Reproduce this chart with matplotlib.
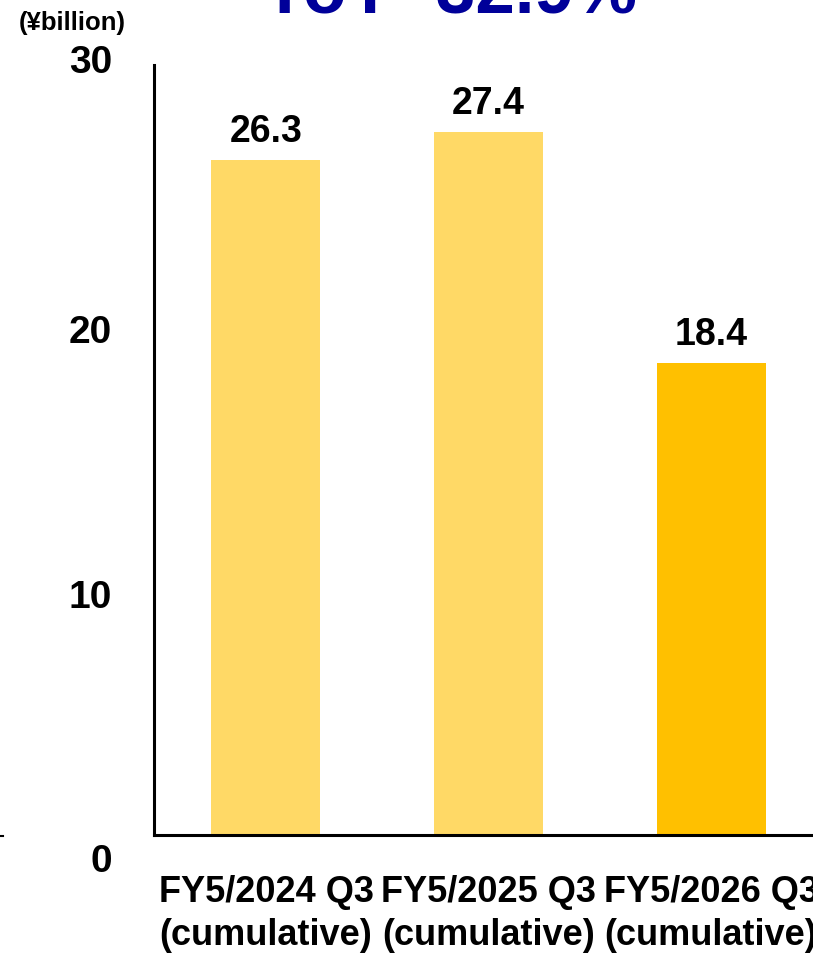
import matplotlib
matplotlib.use("Agg")
import matplotlib.pyplot as plt
from matplotlib import font_manager
from matplotlib.lines import Line2D

categories = ["FY5/2024 Q3\n(cumulative)", "FY5/2025 Q3\n(cumulative)", "FY5/2026 Q3\n(cumulative)"]
values = [26.3, 27.4, 18.4]
value_labels = ["26.3", "27.4", "18.4"]
bar_colors = ["#FFD966", "#FFD966", "#FFC000"]
ytick_values = [30, 20, 10, 0]
ytick_labels = ["30", "20", "10", "0"]
unit_label = "(¥billion)"
title_text = "YoY -32.9%"

names = {f.name for f in font_manager.fontManager.ttflist}
fam = [n for n in ["Liberation Sans Narrow", "Liberation Sans", "DejaVu Sans"] if n in names]
plt.rcParams['font.family'] = fam

fig = plt.figure(figsize=(8.13, 9.6), dpi=100)
ax = fig.add_axes([154/813, 1-835/960, 1-154/813, (835-65)/960])

x = list(range(len(values)))
bars = ax.bar(x, values, width=0.49, color=bar_colors)
ax.set_xlim(-0.503, 2.458)
ax.set_ylim(0, 30)

for xi, v, lab in zip(x, values, value_labels):
    ax.annotate(lab, (xi, v), xytext=(0, 7), textcoords="offset points",
                ha="center", va="bottom", fontsize=27, fontweight="bold")

ax.spines['top'].set_visible(False)
ax.spines['right'].set_visible(False)
ax.spines['left'].set_linewidth(2.2)
ax.spines['bottom'].set_linewidth(2.2)
ax.set_yticks([])
ax.set_xticks(x)
ax.set_xticklabels(categories, fontsize=26, fontweight="bold", linespacing=1.3)
ax.tick_params(axis='x', length=0, pad=29)

# y tick labels placed as texts (offset from axis in the original layout)
ytick_pix = [63, 333, 598, 862]
for lab, yp in zip(ytick_labels, ytick_pix):
    fig.text(112/813, 1-yp/960, lab, ha="right", va="center", fontsize=28, fontweight="bold")

fig.text(72/813, 1-23/960, unit_label, ha="center", va="center", fontsize=18.5, fontweight="bold")
fig.text(449/813, 1-14/960, title_text, ha="center", va="baseline", fontsize=51,
         fontweight="bold", color="#000099")

fig.add_artist(Line2D([0, 3/813], [1-836/960, 1-836/960], color="black", lw=1.5, transform=fig.transFigure))

fig.savefig("out.png", dpi=100)
